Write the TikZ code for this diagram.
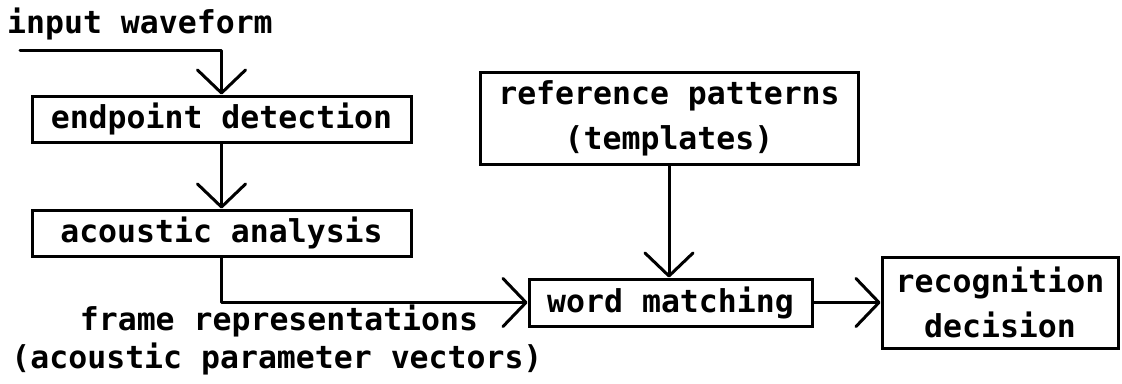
\documentclass[tikz,border=0pt]{standalone}
\usepackage{fontspec}
\newfontfamily\plotfont{DejaVu Sans Mono}[BoldFont={DejaVu Sans Mono Bold}]
\usetikzlibrary{arrows.meta}

\tikzset{
  plot text/.style={font={\plotfont\bfseries\fontsize{31.5}{45}\selectfont}},
  blk/.style={plot text, draw, line width=3pt, inner sep=0pt, align=center},
  lbl/.style={plot text, inner sep=0pt},
  flow/.style={line width=3pt, line cap=round, line join=round,
    -{Straight Barb[length=23pt,width=48pt,line width=3pt,round]}},
}

\begin{document}
\begin{tikzpicture}[x=1pt,y=-1pt]
  \useasboundingbox (0,0) rectangle (1122,383);

  % processing blocks
  \node[blk, minimum width=379pt, minimum height=46pt] (ep) at (221.5,119) {endpoint detection};
  \node[blk, minimum width=379pt, minimum height=46pt] (ac) at (221.5,233) {acoustic analysis};
  \node[blk, minimum width=378pt, minimum height=92pt] (rp) at (669,118) {reference patterns\\(templates)};
  \node[blk, minimum width=283pt, minimum height=47pt] (wm) at (670.5,302.5) {word matching};
  \node[blk, minimum width=236pt, minimum height=91pt] (rd) at (1000,302.5) {recognition\\decision};

  % free labels
  \node[lbl, anchor=base west] (inp) at (7,33) {input waveform};
  \node[lbl, anchor=base] (fr1) at (279,330) {frame representations};
  \node[lbl, anchor=base] (fr2) at (277,368) {(acoustic parameter vectors)};

  % signal flow
  \coordinate (in0) at (20,50);
  \draw[flow] (in0) -| (ep.north);
  \draw[flow] (ep.south) -- (ac.north);
  \draw[flow] (ac.south) |- (wm.west);
  \draw[flow] (rp.south) -- (rp.south |- wm.north);
  \draw[flow] (wm.east) -- (rd.west);
\end{tikzpicture}
\end{document}
